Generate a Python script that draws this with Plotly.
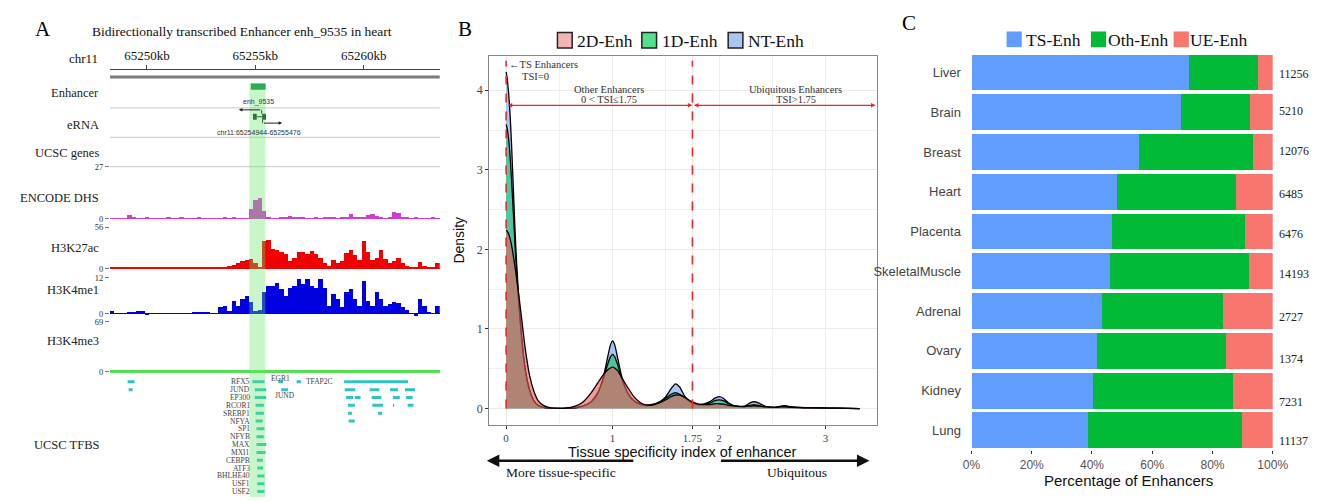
import plotly.graph_objects as go

W, H = 1326, 502


def px(x):
    return x / W


def py(y):
    return 1 - y / H


SERIF = "Liberation Serif, Times New Roman, serif"
SANS = "Liberation Sans, Arial, sans-serif"

# ---------------- panel A: genome browser view (kb) ----------------
region_kb = [65248.3, 65263.5]
ruler_ticks = [65250, 65255, 65260]
highlight_kb = [65254.72, 65255.46]
enhancer_kb = [65254.79, 65255.47]
erna_kb = [65254.94, 65255.48]
bin_start, bin_size = 65248.3, 0.2

dhs = [0.3, 0.5, 0.3, 0.5, 2.0, 1.2, 0.3, 0.3, 0.8, 0.3,
       0.7, 0.3, 0.5, 1.0, 0.3, 0.5, 1.2, 0.4, 0.4, 0.4,
       0.8, 0.4, 0.7, 0.4, 0.7, 0.4, 0.8, 0.4, 0.8, 0.5,
       0.5, 0.3, 5.0, 9.6, 10.6, 4.2, 0.8, 0.5, 0.5, 0.8,
       1.2, 1.5, 1.2, 1.2, 0.8, 0.7, 0.5, 0.8, 0.7, 0.8,
       0.8, 0.8, 0.7, 0.8, 1.2, 2.5, 1.2, 0.8, 1.2, 2.2,
       2.5, 1.7, 0.8, 0.7, 1.2, 3.4, 2.9, 1.2, 0.8, 0.7,
       0.8, 0.5, 0.5, 0.5, 1.0, 0.5]
h3k27ac = [0.3, 0.3, 0.3, 1.0, 1.0, 0.3, 0.3, 0.3, 0.3, 0.3,
           0.3, 0.3, 0.3, 0.3, 0.3, 0.3, 1.0, 0.5, 0.5, 0.5,
           1.5, 1.0, 2.0, 1.5, 1.0, 2.0, 2.5, 3.0, 4.5, 7.0,
           10.0, 12.0, 13.0, 8.0, 2.0, 38.0, 39.0, 27.0, 25.0, 23.0,
           20.0, 10.0, 15.0, 23.0, 22.0, 20.0, 24.0, 20.0, 14.0, 7.5,
           3.0, 12.0, 7.5, 10.0, 21.0, 26.0, 18.0, 12.0, 38.0, 23.0,
           12.0, 14.0, 25.0, 13.0, 8.0, 10.0, 14.0, 7.5, 3.0, 2.0,
           2.0, 9.0, 4.0, 2.0, 1.0, 8.0]
h3k4me1 = [0.8, 0.2, 0.0, 0.3, 0.5, 0.4, 0.9, 0.8, -0.3, 0.2,
           0.0, 0.0, 0.1, 0.3, 0.3, 0.3, 0.0, 0.0, 0.0, 0.4,
           0.5, 0.6, 0.5, 0.1, 0.0, 2.2, 2.7, 0.8, 4.4, 2.5,
           4.9, 6.0, 3.8, 0.8, 1.1, 7.3, 9.3, 9.3, 10.1, 8.2,
           6.0, 8.7, 9.3, 11.7, 9.8, 11.5, 9.3, 8.7, 11.5, 8.7,
           2.7, 6.5, 4.9, 2.2, 7.1, 8.2, 4.9, 2.7, 10.9, 4.4,
           2.7, 7.1, 4.9, 2.7, 3.3, 3.8, 3.6, 2.2, 1.1, 0.0,
           -0.8, 4.9, 2.7, 0.5, 0.0, 2.7]
h3k4me3 = [0, 0, 0, 0, 0, 0, 0, 0, 0, 0,
           0, 0, 0, 0, 0, 0, 0, 0, 0, 0,
           0, 0, 0, 0, 0, 0, 0, 0, 0, 0,
           0, 0, 0, 0, 0, 0, 2, 0, 2, 0,
           0, 0, 0, 0, 0, 0, 0, 0, 0, 0,
           0, 0, 0, 0, 0, 2, 0, 0, 0, 0,
           0, 0, 2, 0, 2, 0, 0, 0, 0, 0,
           0, 0, 0, 0, 0, 0]
bin_x = [bin_start + bin_size * (i + 0.5) for i in range(len(dhs))]

tfbs_names = ["RFX5", "JUND", "EP300", "RCOR1", "SREBP1", "NFYA", "SP1", "NFYB",
              "MAX", "MXI1", "CEBPB", "ATF3", "BHLHE40", "USF1", "USF2"]
tfbs_start = [65254.86, 65254.97, 65254.97, 65255.01, 65255.01, 65255.01, 65255.05, 65255.05,
              65255.05, 65255.05, 65255.07, 65255.09, 65255.09, 65255.09, 65255.09]
tfbs_end = [65255.42, 65255.50, 65255.50, 65255.39, 65255.39, 65255.34, 65255.42, 65255.39,
            65255.50, 65255.47, 65255.34, 65255.36, 65255.42, 65255.42, 65255.42]
# other TFBS hits: row, start, end
other_row = [0, 1, 0, 0, 1,
             0, 1, 1, 1, 1,
             2, 2, 2, 2, 2,
             3, 3, 3, 3, 4, 4, 5]
other_start = [65249.11, 65249.16, 65256.06, 65256.90, 65256.19,
               65259.09, 65259.12, 65260.27, 65261.21, 65261.90,
               65259.18, 65259.59, 65260.36, 65261.34, 65261.95,
               65259.27, 65260.39, 65261.34, 65262.02, 65259.27, 65260.66, 65259.30]
other_end = [65249.43, 65249.34, 65256.28, 65257.10, 65256.51,
             65262.04, 65259.60, 65260.72, 65261.58, 65262.36,
             65259.50, 65259.85, 65260.81, 65261.66, 65262.25,
             65259.59, 65260.89, 65261.40, 65262.29, 65259.45, 65260.85, 65259.58]

# ---------------- panel B: TSI densities ----------------
tsi = [0, 0.01, 0.03, 0.05, 0.07, 0.09, 0.12, 0.15, 0.18, 0.22,
       0.26, 0.30, 0.35, 0.40, 0.47, 0.55, 0.65, 0.72, 0.80, 0.86,
       0.91, 0.95, 0.98, 1.00, 1.02, 1.05, 1.09, 1.14, 1.20, 1.28,
       1.36, 1.44, 1.50, 1.55, 1.59, 1.63, 1.68, 1.74, 1.80, 1.86,
       1.92, 1.96, 2.00, 2.04, 2.09, 2.16, 2.24, 2.29, 2.33, 2.37,
       2.44, 2.52, 2.58, 2.62, 2.68, 2.80, 2.95, 3.10, 3.32]
dens_nt = [4.23, 4.15, 3.85, 3.35, 2.7, 2.05, 1.35, 0.85, 0.5, 0.24,
           0.1, 0.04, 0.015, 0.005, 0.002, 0.002, 0.01, 0.03, 0.08, 0.18,
           0.38, 0.62, 0.8, 0.85, 0.8, 0.62, 0.38, 0.2, 0.09, 0.04,
           0.04, 0.08, 0.15, 0.25, 0.31, 0.27, 0.15, 0.07, 0.05, 0.06,
           0.09, 0.13, 0.15, 0.13, 0.07, 0.03, 0.03, 0.07, 0.085, 0.07,
           0.025, 0.015, 0.03, 0.035, 0.02, 0.012, 0.008, 0.004, 0.0]
dens_1d = [3.57, 3.52, 3.3, 2.9, 2.4, 1.9, 1.3, 0.82, 0.48, 0.23,
           0.1, 0.04, 0.015, 0.005, 0.002, 0.002, 0.01, 0.03, 0.09, 0.2,
           0.36, 0.54, 0.65, 0.68, 0.65, 0.54, 0.36, 0.2, 0.1, 0.05,
           0.05, 0.08, 0.13, 0.18, 0.2, 0.18, 0.13, 0.08, 0.05, 0.05,
           0.07, 0.1, 0.11, 0.1, 0.06, 0.03, 0.025, 0.04, 0.05, 0.04,
           0.02, 0.015, 0.025, 0.03, 0.02, 0.01, 0.008, 0.004, 0.0]
dens_2d = [2.24, 2.23, 2.17, 2.06, 1.9, 1.72, 1.42, 1.08, 0.75, 0.42,
           0.22, 0.1, 0.04, 0.015, 0.004, 0.004, 0.03, 0.08, 0.2, 0.32,
           0.42, 0.48, 0.51, 0.52, 0.51, 0.47, 0.38, 0.27, 0.15, 0.06,
           0.04, 0.07, 0.11, 0.15, 0.17, 0.17, 0.14, 0.09, 0.06, 0.05,
           0.05, 0.06, 0.06, 0.055, 0.04, 0.03, 0.025, 0.03, 0.035, 0.03,
           0.02, 0.015, 0.02, 0.02, 0.015, 0.01, 0.007, 0.004, 0.0]
tsi_cut = 1.75
tsi_ticks = [0, 1, 1.75, 2, 3]

# ---------------- panel C: enhancer class percentages ----------------
tissues = ["Liver", "Brain", "Breast", "Heart", "Placenta", "SkeletalMuscle",
           "Adrenal", "Ovary", "Kidney", "Lung"]
ts_pct = [72.3, 69.7, 55.5, 48.3, 46.6, 45.9, 43.3, 41.7, 40.2, 38.6]
oth_pct = [22.7, 22.8, 38.1, 39.5, 44.2, 46.2, 40.1, 42.7, 46.5, 51.2]
ue_pct = [5.0, 7.5, 6.4, 12.2, 9.2, 7.9, 16.6, 15.6, 13.3, 10.2]
n_enh = [11256, 5210, 12076, 6485, 6476, 14193, 2727, 1374, 7231, 11137]
count_shift = [1, -1, -1, 2, 2, 3, 6, 8, 11, 11]
pct_ticks = [0, 20, 40, 60, 80, 100]

fig = go.Figure()

# ---- panel A traces
tracks = [("y", dhs, "#d23cd2"), ("y2", h3k27ac, "#f00000"),
          ("y3", h3k4me1, "#0000e0"), ("y4", h3k4me3, "#55e055")]
for yax, vals, col in tracks:
    fig.add_trace(go.Bar(x=bin_x, y=vals, width=bin_size, marker_color=col,
                         marker_line_width=0, xaxis="x", yaxis=yax,
                         showlegend=False, hoverinfo="skip"))
# invisible trace so the genome ruler axis is drawn
fig.add_trace(go.Scatter(x=ruler_ticks, y=[None] * len(ruler_ticks), xaxis="x2", yaxis="y",
                         mode="markers", showlegend=False, hoverinfo="skip"))

tx, ty = [], []
for i, (s, e) in enumerate(zip(tfbs_start, tfbs_end)):
    tx += [s, e, None]
    ty += [i, i, None]
for r, s, e in zip(other_row, other_start, other_end):
    tx += [s, e, None]
    ty += [r, r, None]
fig.add_trace(go.Scatter(x=tx, y=ty, mode="lines", line=dict(color="#2ec4c4", width=3),
                         xaxis="x", yaxis="y5", showlegend=False, hoverinfo="skip"))

# ---- panel B traces (drawn NT, 1D, 2D so 2D sits on top)
dens = [("NT-Enh", dens_nt, "rgba(100,150,240,0.55)"),
        ("1D-Enh", dens_1d, "rgba(0,200,90,0.55)"),
        ("2D-Enh", dens_2d, "rgba(235,90,90,0.62)")]
for name, vals, col in dens:
    fig.add_trace(go.Scatter(x=tsi, y=vals, mode="lines", fill="tozeroy", fillcolor=col,
                             line=dict(color="black", width=1.3, shape="spline", smoothing=0.6),
                             name=name, xaxis="x3", yaxis="y6", showlegend=False,
                             hoverinfo="skip"))

# ---- panel C traces
for name, vals, col in [("TS-Enh", ts_pct, "#619CFF"), ("Oth-Enh", oth_pct, "#00BA38"),
                        ("UE-Enh", ue_pct, "#F8766D")]:
    fig.add_trace(go.Bar(y=tissues, x=vals, orientation="h", width=0.9, marker_color=col,
                         marker_line_width=0, name=name, xaxis="x4", yaxis="y7",
                         showlegend=False, hoverinfo="skip"))

shapes = []
ann = []

# ---- panel A decorations
adom = [px(103), px(439)]
for yy in [105, 135, 165]:
    shapes.append(dict(type="line", xref="paper", yref="paper", x0=adom[0], x1=adom[1],
                       y0=py(yy), y1=py(yy), line=dict(color="#c8c8d2", width=1)))
shapes.append(dict(type="line", xref="paper", yref="paper", x0=adom[0], x1=adom[1],
                   y0=py(73.5), y1=py(73.5), line=dict(color="#7a7a7a", width=3)))
shapes.append(dict(type="rect", xref="x", yref="paper", x0=enhancer_kb[0], x1=enhancer_kb[1],
                   y0=py(86.5), y1=py(80), fillcolor="#138a4e", line_width=0))
# eRNA gene model
shapes.append(dict(type="line", xref="x", yref="paper", x0=erna_kb[0], x1=erna_kb[1],
                   y0=py(114), y1=py(114), line=dict(color="#0b3d1e", width=1.2)))
for a, b in [(erna_kb[0] - 0.05, erna_kb[0] + 0.12), (erna_kb[1] - 0.17, erna_kb[1])]:
    shapes.append(dict(type="rect", xref="x", yref="paper", x0=a, x1=b, y0=py(117), y1=py(111),
                       fillcolor="#0b3d1e", line_width=0))
shapes.append(dict(type="line", xref="x", yref="paper", x0=erna_kb[0] + 0.35, x1=erna_kb[0] + 0.35,
                   y0=py(107), y1=py(111), line=dict(color="#222", width=1)))
shapes.append(dict(type="line", xref="x", yref="paper", x0=erna_kb[1] - 0.15, x1=erna_kb[1] - 0.15,
                   y0=py(117), y1=py(120.5), line=dict(color="#222", width=1)))
ann.append(dict(xref="x", yref="paper", x=erna_kb[0] - 0.7, y=py(107), ax=erna_kb[0] + 0.35,
                ay=0, axref="x", ayref="pixel", showarrow=True, arrowhead=2,
                arrowsize=0.7, arrowwidth=1, arrowcolor="#222", text=""))
ann.append(dict(xref="x", yref="paper", x=erna_kb[1] + 0.75, y=py(120.5), ax=erna_kb[1] - 0.15,
                ay=0, axref="x", ayref="pixel", showarrow=True, arrowhead=2,
                arrowsize=0.7, arrowwidth=1, arrowcolor="#222", text=""))
ann.append(dict(xref="x", yref="paper", x=sum(enhancer_kb) / 2, y=py(99), text="enh_9535",
                showarrow=False, font=dict(family=SANS, size=7, color="#333")))
ann.append(dict(xref="x", yref="paper", x=sum(erna_kb) / 2 - 0.05, y=py(130),
                text="chr11:65254944-65255476", showarrow=False,
                font=dict(family=SANS, size=7, color="#333")))
# highlight band
shapes.append(dict(type="rect", xref="x", yref="paper", x0=highlight_kb[0], x1=highlight_kb[1],
                   y0=0, y1=py(80), fillcolor="rgb(100,230,100)", opacity=0.35,
                   line_width=0, layer="above"))

track_labels = [("Enhancer", 90), ("eRNA", 122), ("UCSC genes", 151), ("ENCODE DHS", 197),
                ("H3K27ac", 248), ("H3K4me1", 291), ("H3K4me3", 343), ("UCSC TFBS", 449)]
for t, yy in track_labels:
    ann.append(dict(xref="paper", yref="paper", x=px(94), y=py(yy), text=t, xanchor="right",
                    showarrow=False, font=dict(family=SERIF, size=12.5, color="#222")))
ann.append(dict(xref="paper", yref="paper", x=px(237), y=py(27),
                text="Bidirectionally transcribed Enhancer enh_9535 in heart", showarrow=False,
                font=dict(family=SERIF, size=13.5, color="#111")))
ann.append(dict(xref="paper", yref="paper", x=px(93), y=py(55), text="chr11", xanchor="right",
                showarrow=False, font=dict(family=SERIF, size=13, color="#111")))

for i, name in enumerate(tfbs_names):
    ann.append(dict(xref="x", yref="y5", x=tfbs_start[0] - 0.02, y=i, text=name, xanchor="right",
                    showarrow=False, font=dict(family=SERIF, size=7.5, color="#444")))
ann.append(dict(xref="x", yref="y5", x=65256.17, y=-0.45, text="EGR1", showarrow=False,
                font=dict(family=SERIF, size=7.5, color="#444")))
ann.append(dict(xref="x", yref="y5", x=65257.22, y=0, text="TFAP2C", xanchor="left",
                showarrow=False, font=dict(family=SERIF, size=7.5, color="#444")))
ann.append(dict(xref="x", yref="y5", x=65256.37, y=1.7, text="JUND", showarrow=False,
                font=dict(family=SERIF, size=7.5, color="#444")))

# ---- panel B decorations
for xv in [0, tsi_cut]:
    shapes.append(dict(type="line", xref="x3", yref="y6", x0=xv, x1=xv, y0=0, y1=4.37,
                       line=dict(color="#e8282b", width=1.6, dash="dash")))
for a, b in [(0, tsi_cut), (tsi_cut, 3.47)]:
    ann.append(dict(xref="x3", yref="y6", x=b, y=3.81, ax=a, ay=3.81, axref="x3", ayref="y6",
                    showarrow=True, arrowhead=2, arrowside="end+start", arrowsize=0.7,
                    arrowwidth=1.3, arrowcolor="#e8282b", text=""))
bfont = dict(family=SERIF, size=10.5, color="#333")
ann += [
    dict(xref="x3", yref="y6", x=0.005, y=4.32, text="←TS Enhancers", xanchor="left",
         showarrow=False, font=bfont),
    dict(xref="x3", yref="y6", x=0.28, y=4.17, text="TSI=0", showarrow=False, font=bfont),
    dict(xref="x3", yref="y6", x=0.97, y=4.01, text="Other Enhancers", showarrow=False, font=bfont),
    dict(xref="x3", yref="y6", x=0.97, y=3.88, text="0 &lt; TSI≤1.75", showarrow=False, font=bfont),
    dict(xref="x3", yref="y6", x=2.72, y=4.01, text="Ubiquitous Enhancers", showarrow=False,
         font=bfont),
    dict(xref="x3", yref="y6", x=2.72, y=3.88, text="TSI&gt;1.75", showarrow=False, font=bfont),
    dict(xref="paper", yref="paper", x=px(686), y=py(456), text="Tissue specificity index of enhancer",
         showarrow=False, font=dict(family=SANS, size=14.5, color="#111")),
    dict(xref="paper", yref="paper", x=px(563), y=py(477), text="More tissue-specific",
         showarrow=False, font=dict(family=SERIF, size=13.5, color="#111")),
    dict(xref="paper", yref="paper", x=px(803), y=py(477), text="Ubiquitous",
         showarrow=False, font=dict(family=SERIF, size=13.5, color="#111")),
    dict(xref="paper", yref="paper", x=px(487), y=py(465), ax=148, ay=0, text="",
         showarrow=True, arrowhead=2, arrowsize=1, arrowwidth=2.5, arrowcolor="#111"),
    dict(xref="paper", yref="paper", x=px(877), y=py(465), ax=-150, ay=0, text="",
         showarrow=True, arrowhead=2, arrowsize=1, arrowwidth=2.5, arrowcolor="#111"),
]
leg_b = [("2D-Enh", "#f5b4b4", 559, 577), ("1D-Enh", "#52e08a", 645, 664),
         ("NT-Enh", "#a9c6f2", 733, 751)]
for name, col, bx, tx0 in leg_b:
    shapes.append(dict(type="rect", xref="paper", yref="paper", x0=px(bx), x1=px(bx + 15),
                       y0=py(44), y1=py(28), fillcolor=col, line=dict(color="#222", width=1.5)))
    ann.append(dict(xref="paper", yref="paper", x=px(tx0), y=py(36.5), text=name, xanchor="left",
                    showarrow=False, font=dict(family=SERIF, size=17.5, color="#111")))

# ---- panel C decorations
leg_c = [("TS-Enh", "#619CFF", 1016.7, 1035), ("Oth-Enh", "#00BA38", 1102.7, 1118),
         ("UE-Enh", "#F8766D", 1187, 1202)]
for name, col, bx, tx0 in leg_c:
    shapes.append(dict(type="rect", xref="paper", yref="paper", x0=px(bx), x1=px(bx + 15.5),
                       y0=py(43), y1=py(27), fillcolor=col, line_width=0))
    ann.append(dict(xref="paper", yref="paper", x=px(tx0), y=py(35.5), text=name, xanchor="left",
                    showarrow=False, font=dict(family=SERIF, size=17.5, color="#111")))
for t, n, s in zip(tissues, n_enh, count_shift):
    ann.append(dict(xref="paper", yref="y7", x=px(1292), y=t, yshift=-s, text=str(n),
                    xanchor="left", showarrow=False, font=dict(family=SERIF, size=12, color="#222")))
ann.append(dict(xref="paper", yref="paper", x=px(1141), y=py(485), text="Percentage of Enhancers",
                showarrow=False, font=dict(family=SANS, size=15, color="#111")))

# panel letters
for letter, xx, yy in [("A", 35, 24), ("B", 465, 24), ("C", 917, 18)]:
    ann.append(dict(xref="paper", yref="paper", x=px(xx), y=py(yy), text=letter, showarrow=False,
                    font=dict(family=SERIF, size=21, color="#000")))

for a in ann:
    a.setdefault("xanchor", "center")
    a.setdefault("yanchor", "middle")

tick_font = dict(family=SERIF, size=8.5, color="#333")


def track_axis(lo_px, hi_px, rng, top, col):
    return dict(domain=[py(lo_px), py(hi_px)], range=rng, anchor="x", tickvals=[0, top],
                ticks="outside", ticklen=4, tickcolor="#777", tickfont=tick_font,
                showgrid=False, showline=False, zeroline=True, zerolinecolor=col,
                zerolinewidth=1)


fig.update_layout(
    width=W, height=H, margin=dict(l=0, r=0, t=0, b=0),
    paper_bgcolor="white", plot_bgcolor="white", barmode="stack",
    shapes=shapes, annotations=ann,
    xaxis=dict(domain=adom, range=region_kb, visible=False),
    xaxis2=dict(domain=adom, range=region_kb, anchor="free", position=py(65), side="top",
                overlaying="x", showline=True, linecolor="#444", ticks="outside", ticklen=4,
                tickcolor="#444", tickvals=ruler_ticks, ticktext=[f"{t}kb" for t in ruler_ticks],
                tickfont=dict(family=SERIF, size=13, color="#111"), showgrid=False,
                zeroline=False),
    yaxis=track_axis(218.3, 165, [0, 27], 27, "#d23cd2"),
    yaxis2=track_axis(269, 227, [0, 56], 56, "#f00000"),
    yaxis3=track_axis(318, 278.3, [-1, 12], 12, "#0000e0"),
    yaxis4=dict(track_axis(375, 323, [-1.4, 69], 69, "#55e055"), zerolinewidth=2.5),
    yaxis5=dict(domain=[0, py(378)], range=[14.69, -0.81], anchor="x", visible=False),
    xaxis3=dict(domain=[px(489.3), px(884.3)], range=[-0.16, 3.48], anchor="y6",
                tickvals=tsi_ticks, ticktext=["0", "1", "1.75", "2", "3"],
                ticks="outside", ticklen=3, tickcolor="#333",
                tickfont=dict(family=SERIF, size=11, color="#444"),
                showline=True, mirror=True, linecolor="#888", linewidth=1,
                showgrid=True, gridcolor="#ebebeb", zeroline=False,
                minor=dict(dtick=0.5, tick0=0, showgrid=True, gridcolor="#f0f0f0")),
    yaxis6=dict(domain=[py(428.3), py(51.7)], range=[-0.204, 4.434], anchor="x3",
                tickvals=[0, 1, 2, 3, 4], ticks="outside", ticklen=3, tickcolor="#333",
                tickfont=dict(family=SERIF, size=12, color="#444"),
                showline=True, mirror=True, linecolor="#888", linewidth=1,
                showgrid=True, gridcolor="#ebebeb", zeroline=False,
                minor=dict(dtick=0.5, tick0=0, showgrid=True, gridcolor="#f0f0f0"),
                title=dict(text="Density", font=dict(family=SANS, size=14, color="#111"),
                           standoff=8)),
    xaxis4=dict(domain=[px(981), px(1288)], range=[0, 100], anchor="y7",
                tickvals=pct_ticks, ticktext=[f"{t}%" for t in pct_ticks], ticks="outside",
                ticklen=3, tickcolor="#333", tickfont=dict(family=SANS, size=12, color="#555"),
                showgrid=False, zeroline=False, showline=False),
    yaxis7=dict(domain=[py(454.3), py(48.7)], anchor="x4", categoryorder="array",
                categoryarray=tissues, autorange="reversed", ticks="outside", ticklen=7,
                tickcolor="rgba(0,0,0,0)", tickfont=dict(family=SANS, size=13, color="#444"),
                showgrid=False, showline=False),
)

# page margin off so the figure sits at the window's top-left corner
fig.write_html("out.html", config={"displayModeBar": False},
               post_script="document.body.style.margin='0px';document.body.style.overflow='hidden';")
